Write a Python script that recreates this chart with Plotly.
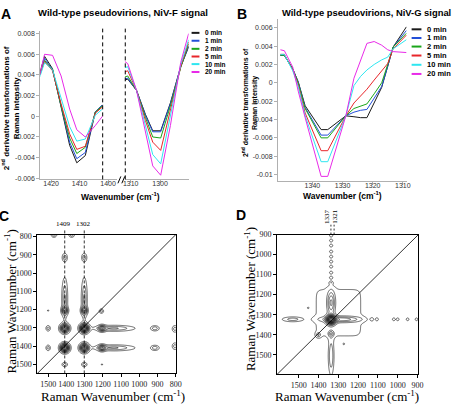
import numpy as np
import plotly.graph_objects as go

W, H = 452, 405
def fx(p): return p / W
def fy(p): return 1 - p / H

# ---------------- Panel A : NiV-F signal ----------------
time_labels = ["0 min", "1 min", "2 min", "5 min", "10 min", "20 min"]
colors = ["#1a1a1a", "#2350d8", "#1aa51a", "#e8262a", "#2ee6f0", "#e82ae8"]

a_left_x = [1424.0, 1422.3, 1419.5, 1416.5, 1413.5, 1411.0, 1408.0, 1404.5, 1402.0]
a_left_0 = [0.0042, 0.0058, 0.0046, 0.0010, -0.0028, -0.0045, -0.0038, 0.0004, 0.0011]
a_left_1 = [0.0040, 0.0056, 0.0045, 0.0009, -0.0025, -0.0041, -0.0035, 0.0004, 0.0011]
a_left_2 = [0.0040, 0.0054, 0.0045, 0.0010, -0.0021, -0.0036, -0.0030, 0.0004, 0.0010]
a_left_5 = [0.0040, 0.0053, 0.0044, 0.0012, -0.0017, -0.0032, -0.0029, 0.0003, 0.0009]
a_left_10 = [0.0038, 0.0052, 0.0045, 0.0018, -0.0010, -0.0024, -0.0022, 0.0001, 0.0007]
a_left_20 = [0.0040, 0.0060, 0.0059, 0.0039, 0.0007, -0.0013, -0.0020, -0.0009, 0.0000]

a_right_x = [1312.0, 1311.0, 1308.0, 1305.0, 1302.5, 1299.8, 1296.5, 1293.0, 1290.3]
a_right_0 = [0.0035, 0.0036, 0.0025, 0.0002, -0.0014, -0.0014, 0.0013, 0.0048, 0.0067]
a_right_1 = [0.0036, 0.0037, 0.0025, 0.0001, -0.0015, -0.0015, 0.0012, 0.0048, 0.0068]
a_right_2 = [0.0038, 0.0039, 0.0025, -0.0001, -0.0020, -0.0021, 0.0010, 0.0047, 0.0070]
a_right_5 = [0.0043, 0.0044, 0.0025, -0.0004, -0.0025, -0.0033, 0.0006, 0.0048, 0.0072]
a_right_10 = [0.0047, 0.0048, 0.0025, -0.0008, -0.0037, -0.0046, 0.0000, 0.0050, 0.0074]
a_right_20 = [0.0053, 0.0051, 0.0025, -0.0015, -0.0048, -0.0057, -0.0009, 0.0052, 0.0080]

# ---------------- Panel B : NiV-G signal ----------------
b_x = [1350.6, 1349.3, 1346.5, 1344.7, 1342.4, 1337.1, 1334.9, 1328.9, 1326.2, 1324.0,
       1321.9, 1319.5, 1317.0, 1315.0, 1313.2, 1308.8]
b_0 = [0.0030, 0.0030, 0.0015, 0.0001, -0.0025, -0.0051, -0.0051, -0.0036, -0.0037, -0.0038,
       -0.0038, -0.0022, -0.0005, 0.0018, 0.0039, 0.0061]
b_1 = [0.0030, 0.0030, 0.0015, 0.0001, -0.0027, -0.0057, -0.0057, -0.0036, -0.0032, -0.0030,
       -0.0029, -0.0017, -0.0004, 0.0018, 0.0039, 0.0057]
b_2 = [0.0030, 0.0030, 0.0015, 0.0000, -0.0028, -0.0060, -0.0060, -0.0036, -0.0028, -0.0025,
       -0.0023, -0.0012, 0.0000, 0.0020, 0.0039, 0.0054]
b_5 = [0.0031, 0.0031, 0.0014, -0.0002, -0.0033, -0.0074, -0.0074, -0.0036, -0.0022, -0.0014,
       -0.0007, 0.0003, 0.0013, 0.0021, 0.0037, 0.0052]
b_10 = [0.0031, 0.0031, 0.0013, -0.0004, -0.0036, -0.0086, -0.0086, -0.0036, -0.0003, 0.0007,
        0.0014, 0.0020, 0.0025, 0.0028, 0.0037, 0.0047]
b_20 = [0.0036, 0.0035, 0.0017, -0.0009, -0.0038, -0.0102, -0.0102, -0.0036, 0.0005, 0.0025,
        0.0043, 0.0045, 0.0041, 0.0036, 0.0034, 0.0033]

a_ticks = [0.008, 0.006, 0.004, 0.002, 0, -0.002, -0.004, -0.006]
a_ticktext = ["0.008", "0.006", "0.004", "0.002", "0", "-0.002", "-0.004", "-0.006"]
b_ticks = [0.006, 0.004, 0.002, 0, -0.002, -0.004, -0.006, -0.008, -0.01]
b_ticktext = ["0.006", "0.004", "0.002", "0", "-0.002", "-0.004", "-0.006", "-0.008", "-0.01"]

# ---------------- Panel C : 2D correlation peaks (x, y, amp, sx, sy, mirror) ----------------
c_px = [1409, 1302, 1409, 1409, 1302, 1409, 1302, 1409, 1302, 1409, 1302, 1500, 1208, 1468, 1371, 805, 805]
c_py = [1409, 1302, 1302, 1205, 1205, 1140, 1140, 915, 915, 1500, 1500, 1205, 1208, 792, 792, 1305, 1400]
c_amp = [1.3, 1.3, 1.1, 0.55, 0.55, 0.32, 0.32, 0.28, 0.28, 0.25, 0.25, 0.12, 0.25, 0.25, 0.25, 0.25, 0.25]
c_sx = [15, 15, 15, 11, 11, 10, 10, 9, 9, 10, 10, 4, 8, 10, 10, 10, 10]
c_sy = [15, 15, 15, 13, 13, 70, 70, 15, 15, 8, 8, 4, 8, 8, 8, 12, 12]
c_mirror = [0, 0, 1, 1, 1, 1, 1, 1, 1, 1, 1, 1, 0, 0, 0, 0, 0]
c_marks = [1409, 1302]

# ---------------- Panel D ----------------
d_px = [1336, 1336, 1336, 1336, 1287, 1530, 1130, 1105, 1020, 1000, 950, 905, 1400, 1452, 1272, 1299]
d_py = [1325, 1240, 1505, 1395, 1323, 1323, 1323, 1323, 1323, 1323, 1323, 1323, 1400, 1266, 1446, 1290]
d_amp = [1.3, 0.45, 0.30, 0.30, 0.40, 0.25, 0.15, 0.15, 0.15, 0.15, 0.15, 0.15, 0.25, 0.12, 0.12, 0.10]
d_sx = [15, 13, 9, 10, 70, 35, 6, 6, 6, 6, 6, 6, 8, 4, 4, 124]
d_sy = [15, 40, 60, 10, 10, 8, 6, 6, 6, 6, 6, 6, 8, 4, 4, 128]
d_pow = [2, 2, 2, 2, 2, 2, 2, 2, 2, 2, 2, 2, 2, 2, 2, 8]
d_bead_y = [905, 930, 955, 985, 1010, 1035, 1060, 1090, 1115, 1140]
d_marks = [1337, 1321]

fig = go.Figure()

a_left_series = [a_left_0, a_left_1, a_left_2, a_left_5, a_left_10, a_left_20]
a_right_series = [a_right_0, a_right_1, a_right_2, a_right_5, a_right_10, a_right_20]
b_series = [b_0, b_1, b_2, b_5, b_10, b_20]

for name, col, yl, yr, yb in zip(time_labels, colors, a_left_series, a_right_series, b_series):
    fig.add_trace(go.Scatter(x=a_left_x, y=yl, mode="lines", line=dict(color=col, width=1),
                             xaxis="x", yaxis="y", showlegend=False, name=name))
    fig.add_trace(go.Scatter(x=a_right_x, y=yr, mode="lines", line=dict(color=col, width=1),
                             xaxis="x2", yaxis="y", showlegend=False, name=name))
    fig.add_trace(go.Scatter(x=b_x, y=yb, mode="lines", line=dict(color=col, width=1),
                             xaxis="x3", yaxis="y2", showlegend=False, name=name))

# contour fields
def build_field(xs, ys, px, py, amp, sx, sy, powr, mirror):
    X, Y = np.meshgrid(xs, ys)
    Z = np.zeros_like(X)
    for i in range(len(px)):
        p = powr[i]
        Z += amp[i] * np.exp(-0.5 * (np.abs((X - px[i]) / sx[i]) ** p + np.abs((Y - py[i]) / sy[i]) ** p))
        if mirror[i]:
            Z += amp[i] * np.exp(-0.5 * (np.abs((X - py[i]) / sy[i]) ** p + np.abs((Y - px[i]) / sx[i]) ** p))
    return Z

cx = np.arange(790, 1570, 2.5)
cy = np.arange(780, 1560, 2.5)
cz = build_field(cx, cy, c_px, c_py, c_amp, c_sx, c_sy, [2] * len(c_px), c_mirror)

dx = np.arange(890, 1615, 2.5)
dy = np.arange(890, 1610, 2.5)
d_all_x = d_px + [1336] * len(d_bead_y)
d_all_y = d_py + d_bead_y
d_all_amp = d_amp + [0.16] * len(d_bead_y)
d_all_sx = d_sx + [7] * len(d_bead_y)
d_all_sy = d_sy + [6] * len(d_bead_y)
d_all_pow = d_pow + [2] * len(d_bead_y)
dz = build_field(dx, dy, d_all_x, d_all_y, d_all_amp, d_all_sx, d_all_sy, d_all_pow, [0] * len(d_all_x))

contour_style = dict(coloring="lines", start=0.08, end=2.0, size=0.11, showlabels=False)
fig.add_trace(go.Contour(x=cx, y=cy, z=cz, xaxis="x4", yaxis="y3", contours=contour_style,
                         colorscale=[[0, "black"], [1, "black"]], showscale=False,
                         line=dict(width=0.6), hoverinfo="skip"))
fig.add_trace(go.Contour(x=dx, y=dy, z=dz, xaxis="x5", yaxis="y4", contours=contour_style,
                         colorscale=[[0, "black"], [1, "black"]], showscale=False,
                         line=dict(width=0.6), hoverinfo="skip"))

sans_tick = dict(family="Arial, Liberation Sans, sans-serif", size=7, color="#333")
serif_tick = dict(family="Liberation Serif, Times New Roman, serif", size=8, color="#222")
gray_axis = dict(showline=True, linecolor="#b0b0b0", linewidth=1, ticks="outside", ticklen=3,
                 tickcolor="#b0b0b0", showgrid=False, zeroline=False, tickfont=sans_tick)
box_axis = dict(showline=True, linecolor="black", linewidth=1, mirror=True, ticks="outside",
                ticklen=3, tickcolor="black", showgrid=False, zeroline=False, tickfont=serif_tick)

fig.update_layout(
    width=W, height=H, margin=dict(l=0, r=0, t=0, b=0),
    paper_bgcolor="white", plot_bgcolor="white", showlegend=False,
    xaxis=dict(domain=[fx(39), fx(117)], range=[1423.8, 1396.9], anchor="y",
               tickvals=[1420, 1410, 1400], ticklabelstandoff=-6, **gray_axis),
    xaxis2=dict(domain=[fx(125), fx(190)], range=[1312.0, 1290.3], anchor="y",
                tickvals=[1310, 1300], ticklabelstandoff=-6, **gray_axis),
    yaxis=dict(domain=[fy(178), fy(27)], range=[-0.0061, 0.00829], anchor="x",
               tickvals=a_ticks, ticktext=a_ticktext, **gray_axis),
    xaxis3=dict(domain=[fx(281), fx(412)], range=[1351.4, 1308.7], anchor="y2",
                tickvals=[1340, 1330, 1320, 1310], ticklabelstandoff=-6, **gray_axis),
    yaxis2=dict(domain=[fy(180), fy(15)], range=[-0.01074, 0.00698], anchor="x3",
                tickvals=b_ticks, ticktext=b_ticktext, **gray_axis),
    xaxis4=dict(domain=[fx(36), fx(177)], range=[1559, 800], anchor="y3",
                tickvals=list(range(1500, 799, -100)), **box_axis),
    yaxis3=dict(domain=[fy(375), fy(234)], range=[1549, 789], anchor="x4",
                tickvals=list(range(800, 1501, 100)), **box_axis),
    xaxis5=dict(domain=[fx(280), fx(424)], range=[1609, 895], anchor="y4",
                tickvals=list(range(1500, 899, -100)), **box_axis),
    yaxis4=dict(domain=[fy(376), fy(234)], range=[1598, 900], anchor="x5",
                tickvals=list(range(900, 1501, 100)), **box_axis),
)

shapes = []
# dashed break lines in A (placed on pixel centres)
shapes.append(dict(type="line", xref="paper", yref="paper", x0=fx(102.5), x1=fx(102.5), y0=fy(178), y1=fy(25),
                   line=dict(color="black", width=1, dash="4px,3px")))
shapes.append(dict(type="line", xref="paper", yref="paper", x0=fx(125.5), x1=fx(125.5), y0=fy(178), y1=fy(25),
                   line=dict(color="black", width=1, dash="4px,3px")))
for xa in (118, 122):
    shapes.append(dict(type="line", xref="paper", yref="paper", x0=fx(xa), x1=fx(xa + 3),
                       y0=fy(182), y1=fy(175), line=dict(color="black", width=1)))
# diagonals
shapes.append(dict(type="line", xref="x4 domain", yref="y3 domain", x0=0, y0=0, x1=1, y1=1,
                   line=dict(color="black", width=0.8)))
shapes.append(dict(type="line", xref="x5 domain", yref="y4 domain", x0=0, y0=0, x1=1, y1=1,
                   line=dict(color="black", width=0.8)))
# marker dashed lines in C
for m in c_marks:
    shapes.append(dict(type="line", xref="x4", yref="paper", x0=m, x1=m, y0=fy(375), y1=fy(228),
                       line=dict(color="black", width=0.8, dash="3px,2px")))
for m in d_marks:
    shapes.append(dict(type="line", xref="x5", yref="paper", x0=m, x1=m, y0=fy(234), y1=fy(224),
                       line=dict(color="black", width=0.8, dash="2px,2px")))

annotations = []
def ann(text, x, y, size, bold=False, family="Arial, Liberation Sans, sans-serif", angle=0,
        xanchor="center", yanchor="middle", color="black"):
    if bold:
        text = "<b>" + text + "</b>"
    annotations.append(dict(text=text, x=fx(x), y=fy(y), xref="paper", yref="paper",
                            showarrow=False, textangle=angle, xanchor=xanchor, yanchor=yanchor,
                            font=dict(family=family, size=size, color=color)))

# legends
a_leg_y = [29.3, 37.3, 45.5, 53.3, 61.0, 69.0]
b_leg_y = [25.7, 34.5, 43.2, 52.3, 61.7, 71.0]
for name, col, ya, yb in zip(time_labels, colors, a_leg_y, b_leg_y):
    shapes.append(dict(type="line", xref="paper", yref="paper", x0=fx(193), x1=fx(201),
                       y0=fy(ya), y1=fy(ya), line=dict(color=col, width=2)))
    ann(name, 205, ya, 6.5, bold=True, xanchor="left")
    shapes.append(dict(type="line", xref="paper", yref="paper", x0=fx(417), x1=fx(427),
                       y0=fy(yb), y1=fy(yb), line=dict(color=col, width=2)))
    ann(name, 431, yb, 7.5, bold=True, xanchor="left")

# titles and labels
ann("Wild-type pseudovirions, NiV-F signal", 123, 9, 9.5, bold=True)
ann("Wild-type pseudovirions, NiV-G signal", 283, 9, 9.4, bold=True, xanchor="left")
ann("A", 4, 10, 14, bold=True)
ann("B", 244, 10, 14, bold=True)
ann("C", 2, 215, 14, bold=True)
ann("D", 243, 214, 14, bold=True)
ann("Wavenumber (cm<sup>-1</sup>)", 121, 195, 8.5, bold=True)
ann("Wavenumber (cm<sup>-1</sup>)", 347, 194, 8.5, bold=True)
ann("2<sup>nd</sup> derivative transformations of<br>Raman intensity", 9, 106, 8, bold=True, angle=-90)
ann("2<sup>nd</sup> derivative transformations of<br>Raman intensity", 252, 100, 7, bold=True, angle=-90)

serif = "Liberation Serif, Times New Roman, serif"
ann("Raman Wavenumber (cm<sup>-1</sup>)", 113, 398, 13, family=serif)
ann("Raman Wavenumber (cm<sup>-1</sup>)", 351, 398, 13, family=serif)
ann("Raman Wavenumber (cm<sup>-1</sup>)", 8, 302, 13, family=serif, angle=-90)
ann("Raman Wavenumber (cm<sup>-1</sup>)", 252, 300, 13, family=serif, angle=-90)
ann("1409", 63, 223, 7, family=serif)
ann("1302", 83, 223, 7, family=serif)
ann("1337", 331, 216, 7, family=serif, angle=-90)
ann("1321", 339, 216, 7, family=serif, angle=-90)

fig.update_layout(shapes=shapes, annotations=annotations)
fig.write_html("out.html")
